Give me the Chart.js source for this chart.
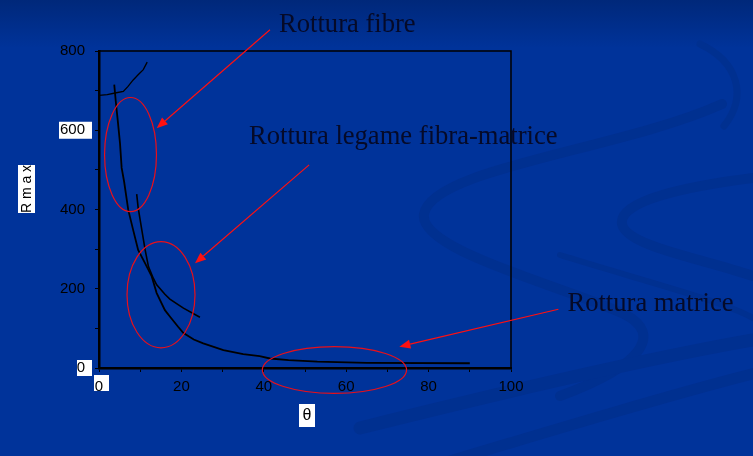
<!DOCTYPE html>
<html><head><meta charset="utf-8">
<script src="https://cdn.jsdelivr.net/npm/chart.js@4"></script>
<style>
html,body{margin:0;padding:0;width:753px;height:456px;overflow:hidden;}
body{background:linear-gradient(#00287a 0px,#00339a 48px,#00339a 100%);position:relative;}
#bg{position:absolute;left:0;top:0;}
#wrap{position:absolute;left:0;top:0;width:753px;height:456px;}
</style></head><body>
<svg id="bg" width="753" height="456" viewBox="0 0 753 456">
  <g fill="none" stroke="#003090" stroke-linecap="round">
    <path d="M 722 104 C 620 150, 432 168, 424 214 C 418 250, 560 285, 624 314 C 664 334, 642 366, 560 396" stroke-width="10"/>
    <path d="M 753 178 C 690 186, 618 200, 622 224 C 626 246, 700 258, 753 276" stroke-width="10"/>
    <path d="M 560 255 C 640 280, 720 300, 753 318" stroke-width="6"/>
    <path d="M 360 428 C 520 388, 650 358, 753 340" stroke-width="13"/>
    <path d="M 420 470 C 560 428, 680 392, 760 372" stroke-width="11"/>
    <path d="M 700 44 C 738 62, 748 96, 724 126" stroke-width="7"/>
  </g>
</svg>
<div id="wrap"><canvas id="c" width="753" height="456"></canvas></div>
<script>
// ---- data ----
const fibreTheta = [0, 2.0, 3.9, 5.9, 7.0, 8.3, 9.5, 10.75, 11.7];
const fibreR     = [688, 690, 694, 698, 710, 727, 740, 753, 772];

const interfaceTheta = [3.7, 4.1, 4.5, 5.1, 5.5, 6.1, 7.1, 8.3, 9.5, 11.2, 12.8, 14.0, 16.0, 17.2, 19.2, 20.5, 23.0, 25.3, 30.2, 35.0, 39.0, 41.5, 46.0, 53.0, 65.0, 90.0];
const interfaceR     = [715, 670, 630, 567, 505, 470, 399, 348, 298, 264, 231, 189, 146, 130, 104, 88, 72, 62, 45, 35, 30, 24, 20, 16, 13, 12];

const matrixTheta = [9.15, 9.5, 10.4, 11.2, 12.0, 13.2, 14.0, 16.0, 17.2, 19.2, 20.5, 24.5];
const matrixR     = [439, 405, 348, 298, 256, 226, 210, 186, 174, 160, 151, 128];

const xMin = 0, xMax = 100, xStep = 10, xLabelEvery = 20;
const yMin = 0, yMax = 800, yStep = 100, yLabelEvery = 200;

const xTitle = 'θ';
const yTitle = 'R m a x';

// annotations, in data units
const labels = [
  {text: 'Rottura fibre', x: 43.7, y: 849},
  {text: 'Rottura legame fibra-matrice', x: 36.4, y: 566},
  {text: 'Rottura matrice', x: 113.7, y: 142.6}
];
const ellipses = [
  {x: 7.65, y: 538.6, rx: 6.3, ry: 144},
  {x: 15.05, y: 185, rx: 8.25, ry: 134},
  {x: 57.15, y: -5, rx: 17.5, ry: 59}
];
const arrows = [
  {x1: 41.5, y1: 853.5, x2: 14.0, y2: 605.3},
  {x1: 51.0, y1: 512.6, x2: 23.3, y2: 264.4},
  {x1: 111.5, y1: 148.2, x2: 72.9, y2: 53.8}
];

const toPts = (xs, ys) => xs.map((x, i) => ({x: x, y: ys[i]}));

const overlay = {
  id: 'overlay',
  beforeDraw(chart) {
    const ctx = chart.ctx, xs = chart.scales.x, ys = chart.scales.y, a = chart.chartArea;
    ctx.save();
    ctx.fillStyle = '#ffffff';
    let p = ys.getPixelForValue(600);
    ctx.fillRect(a.left - 40, p - 8.5, 33, 17);
    p = ys.getPixelForValue(0);
    ctx.fillRect(a.left - 22, p - 8, 15, 16);
    p = xs.getPixelForValue(0);
    ctx.fillRect(p - 5, a.bottom + 7, 15, 16);
    ctx.fillRect(18, 165, 17, 48);
    ctx.fillRect((a.left + a.right) / 2 - 6, 404, 16, 23);
    ctx.restore();
  },
  afterDraw(chart) {
    const ctx = chart.ctx, xs = chart.scales.x, ys = chart.scales.y, a = chart.chartArea;
    const X = v => xs.getPixelForValue(v), Y = v => ys.getPixelForValue(v);
    const pxX = xs.width / (xMax - xMin), pxY = ys.height / (yMax - yMin);
    ctx.save();
    ctx.strokeStyle = '#000'; ctx.lineWidth = 1.5;
    ctx.beginPath();
    ctx.moveTo(a.left, a.top); ctx.lineTo(a.right, a.top); ctx.lineTo(a.right, a.bottom);
    ctx.stroke();
    ctx.strokeStyle = '#e8101a'; ctx.lineWidth = 1.2;
    ellipses.forEach(e => {
      ctx.beginPath();
      ctx.ellipse(X(e.x), Y(e.y), e.rx * pxX, e.ry * pxY, 0, 0, Math.PI * 2);
      ctx.stroke();
    });
    ctx.strokeStyle = '#ff1010'; ctx.fillStyle = '#ff1010'; ctx.lineWidth = 1.2;
    arrows.forEach(r => {
      const x1 = X(r.x1), y1 = Y(r.y1), x2 = X(r.x2), y2 = Y(r.y2);
      const ang = Math.atan2(y2 - y1, x2 - x1), L = 11, W = 4.5;
      const bx = x2 - L * Math.cos(ang), by = y2 - L * Math.sin(ang);
      ctx.beginPath(); ctx.moveTo(x1, y1); ctx.lineTo(bx, by); ctx.stroke();
      ctx.beginPath();
      ctx.moveTo(x2, y2);
      ctx.lineTo(bx + W * Math.sin(ang), by - W * Math.cos(ang));
      ctx.lineTo(bx - W * Math.sin(ang), by + W * Math.cos(ang));
      ctx.closePath(); ctx.fill();
    });
    ctx.fillStyle = '#050a28';
    ctx.font = '26.6px "Liberation Serif", "Times New Roman", serif';
    ctx.textAlign = 'left'; ctx.textBaseline = 'alphabetic';
    labels.forEach(l => ctx.fillText(l.text, X(l.x), Y(l.y)));
    ctx.fillStyle = '#000';
    ctx.font = '16px "Liberation Sans", Arial, sans-serif';
    ctx.textAlign = 'center'; ctx.textBaseline = 'middle';
    ctx.fillText(xTitle, (a.left + a.right) / 2 + 2, 416);
    ctx.save();
    ctx.translate(27, 189); ctx.rotate(-Math.PI / 2);
    ctx.font = '14px "Liberation Sans", Arial, sans-serif';
    ctx.fillText(yTitle, 0, 0);
    ctx.restore();
    ctx.restore();
  }
};

const lineDs = (pts, w) => ({
  data: pts, showLine: true, borderColor: '#000', borderWidth: w,
  pointRadius: 0, fill: false, tension: 0
});

new Chart(document.getElementById('c'), {
  type: 'scatter',
  data: {
    datasets: [
      lineDs(toPts(fibreTheta, fibreR), 1.3),
      lineDs(toPts(interfaceTheta, interfaceR), 1.8),
      lineDs(toPts(matrixTheta, matrixR), 1.6)
    ]
  },
  options: {
    responsive: false, animation: false,
    layout: {padding: {top: 51, right: 242, left: 0, bottom: 0}},
    plugins: {legend: {display: false}, tooltip: {enabled: false}},
    scales: {
      x: {
        type: 'linear', min: xMin, max: xMax,
        ticks: {stepSize: xStep, autoSkip: false, maxRotation: 0, padding: 6,
          color: '#000', font: {family: '"Liberation Sans", Arial, sans-serif', size: 15},
          callback: v => (v % xLabelEvery === 0 ? String(v) : '')},
        grid: {drawOnChartArea: false, drawTicks: true, tickLength: 4, color: '#000', lineWidth: 1},
        border: {display: true, color: '#000', width: 2.5},
        afterFit(s) { s.height = 88; }
      },
      y: {
        type: 'linear', min: yMin, max: yMax,
        ticks: {stepSize: yStep, autoSkip: false, padding: 10,
          color: '#000', font: {family: '"Liberation Sans", Arial, sans-serif', size: 15},
          callback: v => (v % yLabelEvery === 0 ? String(v) : '')},
        grid: {drawOnChartArea: false, drawTicks: true, tickLength: 4, color: '#000', lineWidth: 1},
        border: {display: true, color: '#000', width: 2.5},
        afterFit(s) { s.width = 99; }
      }
    }
  },
  plugins: [overlay]
});
</script>
</body></html>
